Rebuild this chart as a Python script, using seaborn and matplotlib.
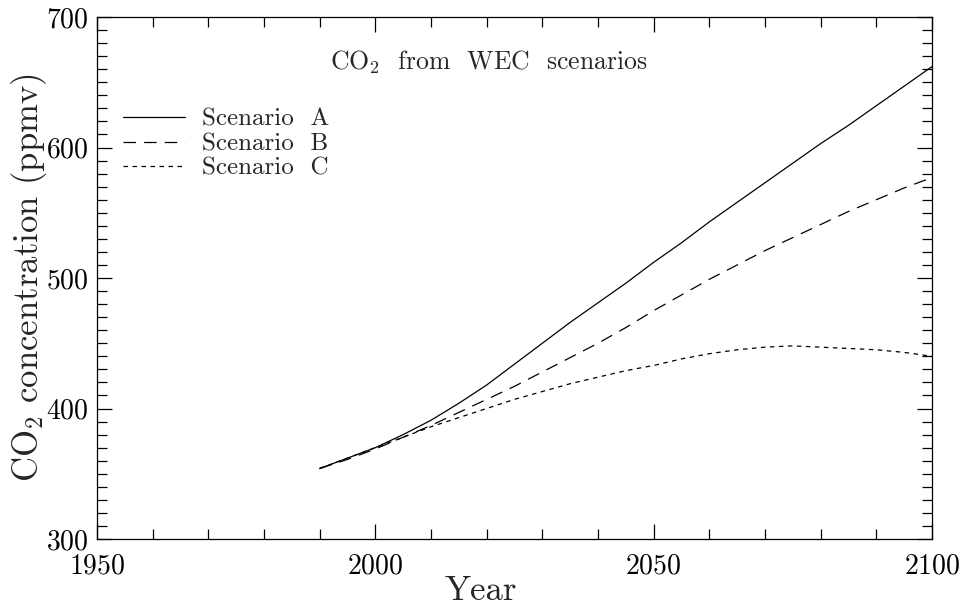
import matplotlib
matplotlib.use("Agg")
import matplotlib.pyplot as plt
import seaborn as sns
import pandas as pd
from matplotlib.ticker import MultipleLocator
from matplotlib.lines import Line2D

years = [1990, 1995, 2000, 2005, 2010, 2015, 2020, 2025, 2030, 2035, 2040, 2045,
         2050, 2055, 2060, 2065, 2070, 2075, 2080, 2085, 2090, 2095, 2100]
scenario_a = [354, 362, 370, 380, 391, 404, 418, 434, 450, 466, 481, 496,
              512, 527, 543, 558, 573, 588, 603, 617, 632, 647, 662]
scenario_b = [354, 361, 369, 378, 387, 397, 407, 417, 428, 439, 450, 462,
              475, 487, 499, 510, 521, 531, 541, 551, 560, 569, 577]
scenario_c = [354, 362, 370, 378, 386, 393, 400, 407, 413, 419, 424, 429,
              433, 438, 442, 445, 447, 448, 447, 446, 445, 443, 440]
scenario_names = ["Scenario  A", "Scenario  B", "Scenario  C"]

df = pd.concat([
    pd.DataFrame({"Year": years, "CO2": vals, "Scenario": name})
    for name, vals in zip(scenario_names, [scenario_a, scenario_b, scenario_c])
])

sns.set_style("ticks")
plt.rcParams["font.family"] = ["cmr10", "DejaVu Serif"]
plt.rcParams["mathtext.fontset"] = "cm"
plt.rcParams["axes.formatter.use_mathtext"] = True

fig = plt.figure(figsize=(9.65, 6.07), dpi=100)
ax = fig.add_axes([97/965, 1 - 539/607, (932-97)/965, (539-17)/607])

dashes = {scenario_names[0]: "", scenario_names[1]: (10, 6.5), scenario_names[2]: (3.6, 3.6)}
sns.lineplot(data=df, x="Year", y="CO2", style="Scenario", dashes=dashes,
             color="black", linewidth=0.9, ax=ax, legend=False)

ax.set_xlim(1950, 2100)
ax.set_ylim(300, 700)
ax.xaxis.set_major_locator(MultipleLocator(50))
ax.xaxis.set_minor_locator(MultipleLocator(10))
ax.yaxis.set_major_locator(MultipleLocator(100))
ax.yaxis.set_minor_locator(MultipleLocator(10))
ax.tick_params(which="both", direction="in", top=True, right=True, width=0.9,
               colors="black", labelsize=20)
ax.tick_params(which="major", length=11)
ax.tick_params(axis="x", which="major", pad=10)
ax.tick_params(axis="y", which="major", pad=6)
ax.tick_params(which="minor", length=7)
for s in ax.spines.values():
    s.set_linewidth(0.9)
    s.set_color("black")

ax.set_xlabel("Year", fontsize=25)
ax.set_ylabel("CO$_2$ concentration (ppmv)", fontsize=25)
ax.xaxis.set_label_coords(0.46, -0.07, transform=ax.transAxes)
ax.yaxis.set_label_coords(-0.058, 0.5, transform=ax.transAxes)

ax.text(0.469, 0.914, "CO$_2$  from  WEC  scenarios", transform=ax.transAxes,
        ha="center", va="center", fontsize=18.5)

handles = [Line2D([], [], color="black", linewidth=0.9, linestyle="-"),
           Line2D([], [], color="black", linewidth=0.9, linestyle=(0, (10, 6.5))),
           Line2D([], [], color="black", linewidth=0.9, linestyle=(0, (3.6, 3.6)))]
ax.legend(handles, scenario_names, loc="upper left", bbox_to_anchor=(0.031, 0.825),
          frameon=False, fontsize=18, handlelength=2.5, handletextpad=0.65,
          labelspacing=0.08, borderaxespad=0, borderpad=0)

fig.savefig("out.png", dpi=100)
